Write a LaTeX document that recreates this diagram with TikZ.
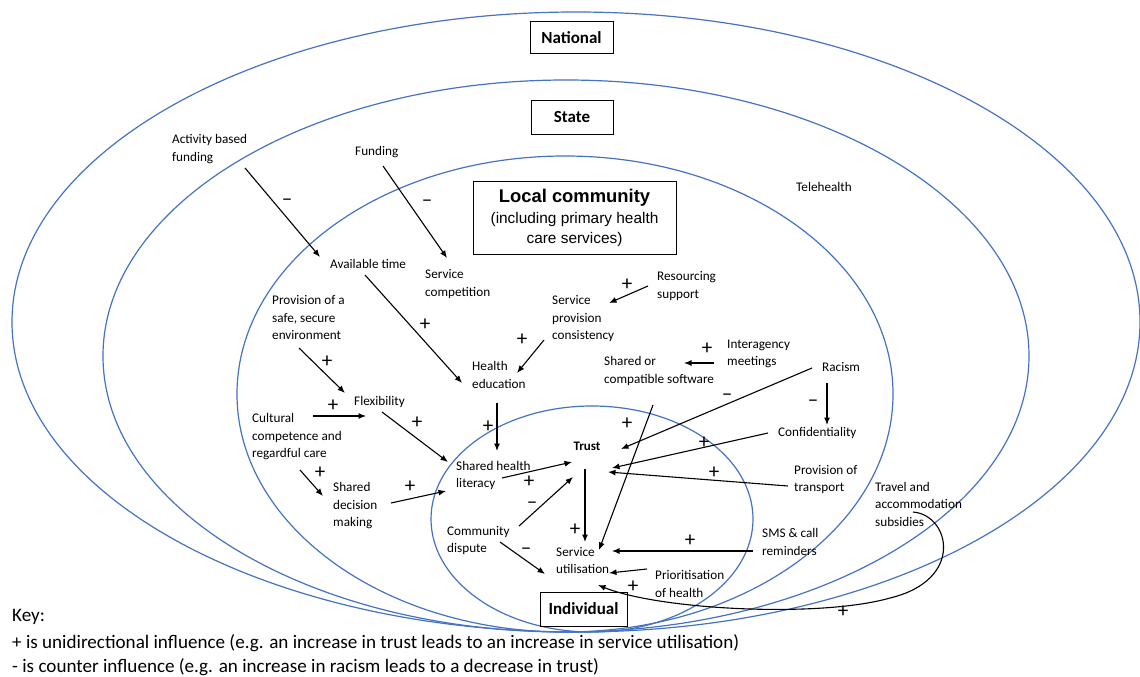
\documentclass[tikz,border=0pt]{standalone}
\usepackage{fontspec}
\setmainfont{Carlito}
\newfontfamily\arialf{Liberation Sans}
\usetikzlibrary{arrows.meta,calc}
\definecolor{ellblue}{HTML}{4472C4}
\tikzset{
  ell/.style={draw=ellblue, line width=1.2pt},
  lbl/.style={anchor=west, align=left, inner sep=0pt, font=\fontsize{13.2}{17.5}\selectfont},
  sg/.style={inner sep=0pt, font=\fontsize{21}{21}\selectfont},
  lvlbox/.style={draw, line width=1pt, inner sep=0pt, font=\bfseries\fontsize{17}{20}\selectfont},
  arr/.style={-{Latex[length=7.5pt,width=6pt]}, line width=1.1pt},
  keytxt/.style={anchor=west, inner sep=0pt, font=\fontsize{19.1}{22}\selectfont}
}
\begin{document}
\begin{tikzpicture}[x=1pt,y=-1pt]
\useasboundingbox (0,0) rectangle (1140,677);
\clip (0,0) rectangle (1140,677);
% level ellipses
\draw[ell] (576,322) ellipse [x radius=564pt, y radius=310pt];
\draw[ell] (566,356) ellipse [x radius=463pt, y radius=276pt];
\draw[ell] (565,394) ellipse [x radius=328pt, y radius=238pt];
\draw[ell] (592,519) ellipse [x radius=161pt, y radius=113pt];

% level boxes
\node[lvlbox, minimum width=83pt, minimum height=32pt] (nat) at (571.5,38) {National};
\node[lvlbox, minimum width=82pt, minimum height=34pt] (state) at (572,117) {State};
\node[draw, line width=1pt, minimum width=203pt, minimum height=73pt] (lcbox) at (574.5,217.5) {};
\node[inner sep=0pt, font=\arialf\bfseries\fontsize{18.4}{22}\selectfont] (lctitle) at (574.5,198) {Local community};
\node[inner sep=0pt, align=center, font=\arialf\fontsize{15.4}{20}\selectfont] (lcsub) at (574.5,230) {(including primary health\\care services)};
\node[lvlbox, minimum width=87pt, minimum height=34pt] (indiv) at (583.5,609) {Individual};

% factor nodes
\node[lbl] (abf) at (172,149) {Activity based\\funding};
\node[lbl] (fund) at (355,152) {Funding};
\node[lbl] (avt) at (330,264) {Available time};
\node[lbl] (scomp) at (425,284) {Service\\competition};
\node[lbl] (prov) at (272,318) {Provision of a\\safe, secure\\environment};
\node[lbl] (tele) at (796,187) {Telehealth};
\node[lbl] (res) at (657,286) {Resourcing\\support};
\node[lbl] (spc) at (552,319) {Service\\provision\\consistency};
\node[lbl] (inter) at (727,354) {Interagency\\meetings};
\node[lbl] (soft) at (604,371) {Shared or\\compatible software};
\node[lbl] (hed) at (472,375) {Health\\education};
\node[lbl] (racism) at (822,367) {Racism};
\node[lbl] (flex) at (354,402) {Flexibility};
\node[lbl] (cult) at (252,437) {Cultural\\competence and\\regardful care};
\node[inner sep=0pt, font=\bfseries\fontsize{13}{15}\selectfont] (trust) at (587,446) {Trust};
\node[lbl] (conf) at (778,433) {Confidentiality};
\node[lbl] (shl) at (456,475.5) {Shared health\\literacy};
\node[lbl] (ptrans) at (794,479.5) {Provision of\\transport};
\node[lbl] (sdm) at (333,506) {Shared\\decision\\making};
\node[lbl] (travel) at (875,504) {Travel and\\accommodation\\subsidies};
\node[lbl] (cdisp) at (447,540.5) {Community\\dispute};
\node[lbl] (sms) at (762,542) {SMS \& call\\reminders};
\node[lbl] (su) at (556,560.5) {Service\\utilisation};
\node[lbl] (prior) at (655,584) {Prioritisation\\of health};

% connectors
\draw[arr] ($(abf.west)+(73,19)$) -- ($(avt.west)+(-10,-7)$);
\draw[arr] ($(fund.west)+(28,14)$) -- ($(scomp.west)+(22,-26)$);
\draw[arr] ($(avt.west)+(35,11)$) -- ($(hed.west)+(-10,8)$);
\draw[arr] ($(res.west)+(-9,0)$) -- ($(spc.west)+(57,-16)$);
\draw[arr] ($(spc.west)+(-8,21)$) -- ($(hed.west)+(45,-2)$);
\draw[arr] ($(inter.west)+(-13,9)$) -- ($(soft.west)+(80,-8)$);
\draw[arr] ($(prov.west)+(27,30)$) -- ($(flex.west)+(-9,-9)$);
\draw[arr] ($(cult.west)+(61,-21)$) -- ($(flex.west)+(12,14)$);
\draw[arr] ($(flex.west)+(28,10)$) -- ($(shl.west)+(-8,-13.5)$);
\draw[arr] ($(hed.west)+(25,28)$) -- ($(shl.west)+(41,-24.5)$);
\draw[arr] ($(cult.west)+(48,33)$) -- ($(sdm.west)+(-10,-10)$);
\draw[arr] ($(sdm.west)+(58,-3)$) -- ($(shl.west)+(-10,15.5)$);
\draw[arr] ($(shl.west)+(46,2.5)$) -- ($(trust.center)+(-15,16)$);
\draw[arr] ($(cdisp.west)+(72,-14.5)$) -- ($(trust.center)+(-14,31)$);
\draw[arr] ($(cdisp.west)+(53,1.5)$) -- ($(su.west)+(-11,13.5)$);
\draw[arr] ($(trust.center)+(-2,23)$) -- ($(su.west)+(29,-18.5)$);
\draw[arr] ($(soft.west)+(49,34)$) -- ($(su.west)+(43,-10.5)$);
\draw[arr] ($(racism.west)+(-10,1)$) -- ($(trust.center)+(34,3)$);
\draw[arr] ($(racism.west)+(5,16)$) -- ($(conf.west)+(49,-8)$);
\draw[arr] ($(conf.west)+(-10,0)$) -- ($(trust.center)+(25,22)$);
\draw[arr] ($(ptrans.west)+(-6,6.5)$) -- ($(trust.center)+(21,26)$);
\draw[arr] ($(sms.west)+(-9,9)$) -- ($(su.west)+(56,-9.5)$);
\draw[arr] ($(prior.west)+(-8,-15)$) -- ($(su.west)+(53,12.5)$);
\draw[arr] ($(travel.west)+(38,8)$) .. controls (950,515) and (965,580) .. (890,598)
  .. controls (820,618) and (660,610) .. ($(su.west)+(42,24.5)$);

% signs
\node[sg] (s1) at (287,202) {–};
\node[sg] (s2) at (427,203) {–};
\node[sg] (s3) at (425,325) {+};
\node[sg] (s4) at (627,285) {+};
\node[sg] (s5) at (522,340) {+};
\node[sg] (s6) at (707,349) {+};
\node[sg] (s7) at (327,362) {+};
\node[sg] (s8) at (333,406) {+};
\node[sg] (s9) at (417,423) {+};
\node[sg] (s10) at (488,427) {+};
\node[sg] (s11) at (320,473) {+};
\node[sg] (s12) at (410,487) {+};
\node[sg] (s13) at (529,482) {+};
\node[sg] (s14) at (532,505) {–};
\node[sg] (s15) at (526,551) {–};
\node[sg] (s16) at (575,530) {+};
\node[sg] (s17) at (627,424) {+};
\node[sg] (s18) at (727,397) {–};
\node[sg] (s19) at (813,403) {–};
\node[sg] (s20) at (704,443) {+};
\node[sg] (s21) at (714,473) {+};
\node[sg] (s22) at (690,541) {+};
\node[sg] (s23) at (633,587) {+};
\node[sg] (s24) at (843,612) {+};

% key
\node[keytxt] (key1) at (12,617) {Key:};
\node[keytxt] (key2) at (12,643) {+ is unidirectional influence (e.g. an increase in trust leads to an increase in service utilisation)};
\node[keytxt] (key3) at (12,667) {- is counter influence (e.g. an increase in racism leads to a decrease in trust)};
\end{tikzpicture}
\end{document}
